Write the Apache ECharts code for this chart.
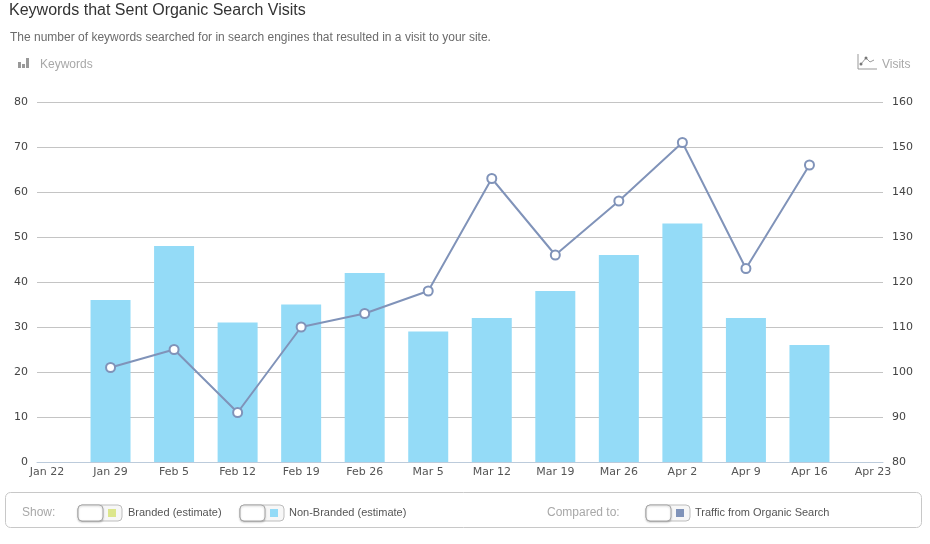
<!DOCTYPE html>
<html>
<head>
<meta charset="utf-8">
<title>Keywords that Sent Organic Search Visits</title>
<script src="https://cdn.jsdelivr.net/npm/echarts@6/dist/echarts.min.js"></script>
<style>
  html, body { margin: 0; padding: 0; background: #fff; }
  #chart { width: 930px; height: 544px; }
</style>
</head>
<body>
<div id="chart"></div>
<script>
// weeks on the x axis (first and last are empty edge weeks)
const categories = ['Jan 22', 'Jan 29', 'Feb 5', 'Feb 12', 'Feb 19', 'Feb 26', 'Mar 5',
    'Mar 12', 'Mar 19', 'Mar 26', 'Apr 2', 'Apr 9', 'Apr 16', 'Apr 23'];
// non-branded keywords (bars, left axis)
const keywords = [null, 36, 48, 31, 35, 42, 29, 32, 38, 46, 53, 32, 26, null];
// traffic from organic search (line, right axis)
const visits = [null, 101, 105, 91, 110, 113, 118, 143, 126, 138, 151, 123, 146, null];
// tick labels of both value axes
const keywordTicks = [0, 10, 20, 30, 40, 50, 60, 70, 80];
const visitTicks = [80, 90, 100, 110, 120, 130, 140, 150, 160];

const FONT = 'DejaVu Sans';
const TEXT_FONT = 'Liberation Sans';
const BAR_COLOR = '#94dbf7';
const LINE_COLOR = '#8093b9';

let myChart = echarts.init(document.getElementById('chart'));

function axisRange(ticks) {
    return {
        min: ticks[0],
        max: ticks[ticks.length - 1],
        interval: ticks[1] - ticks[0]
    };
}

// small switch with a coloured square, like the ones under the chart
function toggle(x, color) {
    return {
        type: 'group',
        x: x,
        y: 505,
        children: [
            { type: 'rect', shape: { x: 0, y: 0, width: 44, height: 16, r: 4 },
              style: { fill: '#f7f7f7', stroke: '#bdbdbd', lineWidth: 1 } },
            { type: 'rect', shape: { x: 0, y: 0, width: 25, height: 16, r: 4 },
              style: { fill: '#ffffff', stroke: '#a8a8a8', lineWidth: 1,
                       shadowBlur: 2, shadowColor: 'rgba(0,0,0,0.2)', shadowOffsetY: 1 } },
            { type: 'rect', shape: { x: 30, y: 4, width: 8, height: 8 },
              style: { fill: color } }
        ]
    };
}

function legendText(x, text, color, size) {
    return {
        type: 'text', x: x, y: 513,
        style: { text: text, fill: color, font: size + 'px "' + TEXT_FONT + '"',
                 verticalAlign: 'middle' }
    };
}

let option = {
    animation: false,
    textStyle: { fontFamily: FONT },
    title: [{
        text: 'Keywords that Sent Organic Search Visits',
        left: 4,
        top: -2,
        textStyle: { fontFamily: TEXT_FONT, fontSize: 16, fontWeight: 'normal', color: '#333' }
    }, {
        text: 'The number of keywords searched for in search engines that resulted in a visit to your site.',
        left: 5,
        top: 27,
        textStyle: { fontFamily: TEXT_FONT, fontSize: 12, fontWeight: 'normal', color: '#6b6b6b' }
    }],
    grid: [
        // chart area: category centres run from Jan 22 to Apr 23
        { left: 47, right: 57, top: 102, bottom: 82 },
        // background area for gridlines and axis labels
        { left: 37, right: 47, top: 102, bottom: 82 }
    ],
    xAxis: [{
        gridIndex: 0,
        type: 'category',
        boundaryGap: false,
        data: categories,
        axisLine: { show: false },
        axisTick: { show: false },
        axisLabel: { color: '#555', fontSize: 11, margin: 5, interval: 0 }
    }, {
        gridIndex: 1,
        type: 'value',
        min: 0,
        max: 1,
        axisLine: { lineStyle: { color: '#bccbdb', width: 1 } },
        axisTick: { show: false },
        axisLabel: { show: false },
        splitLine: { show: false }
    }],
    yAxis: [{
        gridIndex: 0,
        type: 'value',
        ...axisRange(keywordTicks),
        show: false
    }, {
        gridIndex: 0,
        type: 'value',
        ...axisRange(visitTicks),
        show: false
    }, {
        gridIndex: 1,
        type: 'value',
        position: 'left',
        ...axisRange(keywordTicks),
        axisLine: { show: false },
        axisTick: { show: false },
        axisLabel: { color: '#444', fontSize: 11, margin: 9 },
        splitLine: { lineStyle: { color: '#c4c4c4', width: 1 } }
    }, {
        gridIndex: 1,
        type: 'value',
        position: 'right',
        ...axisRange(visitTicks),
        axisLine: { show: false },
        axisTick: { show: false },
        axisLabel: { color: '#444', fontSize: 11, margin: 9 },
        splitLine: { show: false }
    }],
    series: [{
        name: 'Non-Branded (estimate)',
        type: 'bar',
        xAxisIndex: 0,
        yAxisIndex: 0,
        barWidth: 40,
        itemStyle: { color: BAR_COLOR },
        data: keywords
    }, {
        name: 'Traffic from Organic Search',
        type: 'line',
        xAxisIndex: 0,
        yAxisIndex: 1,
        symbol: 'circle',
        symbolSize: 9,
        lineStyle: { color: LINE_COLOR, width: 2 },
        itemStyle: { color: '#ffffff', borderColor: LINE_COLOR, borderWidth: 2 },
        data: visits
    }],
    graphic: [
        // axis captions with their icons
        { type: 'group', x: 18, y: 58, children: [
            { type: 'rect', shape: { x: 0, y: 4, width: 3, height: 6 }, style: { fill: '#999' } },
            { type: 'rect', shape: { x: 4, y: 6, width: 3, height: 4 }, style: { fill: '#999' } },
            { type: 'rect', shape: { x: 8, y: 0, width: 3, height: 10 }, style: { fill: '#999' } }
        ] },
        { type: 'text', x: 40, y: 65,
          style: { text: 'Keywords', fill: '#a8a8a8', font: '12px "' + TEXT_FONT + '"',
                   verticalAlign: 'middle' } },
        { type: 'group', x: 858, y: 54, children: [
            { type: 'polyline', shape: { points: [[0, 0], [0, 15], [19, 15]] },
              style: { stroke: '#999', lineWidth: 1, fill: null } },
            { type: 'polyline', shape: { points: [[3, 10], [8, 4], [12, 8], [16, 6]] },
              style: { stroke: '#999', lineWidth: 1, fill: null } },
            { type: 'circle', shape: { cx: 8, cy: 4, r: 1.5 }, style: { fill: '#777' } },
            { type: 'circle', shape: { cx: 3, cy: 10, r: 1.5 }, style: { fill: '#777' } }
        ] },
        { type: 'text', x: 882, y: 65,
          style: { text: 'Visits', fill: '#a8a8a8', font: '12px "' + TEXT_FONT + '"',
                   verticalAlign: 'middle' } },
        // legend box
        { type: 'rect', shape: { x: 5.5, y: 492.5, width: 916, height: 35, r: 5 },
          style: { fill: '#fff', stroke: '#c8c8c8', lineWidth: 1 } },
        legendText(22, 'Show:', '#a8a8a8', 12),
        toggle(78, '#dce68c'),
        legendText(128, 'Branded (estimate)', '#555', 11),
        toggle(240, BAR_COLOR),
        legendText(289, 'Non-Branded (estimate)', '#555', 11),
        legendText(547, 'Compared to:', '#a8a8a8', 12),
        toggle(646, LINE_COLOR),
        legendText(695, 'Traffic from Organic Search', '#555', 11)
    ]
};

myChart.setOption(option);
</script>
</body>
</html>
